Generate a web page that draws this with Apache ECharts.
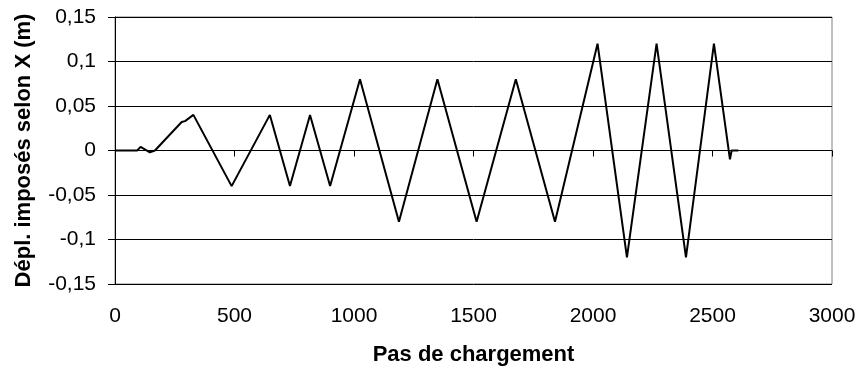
<!DOCTYPE html>
<html>
<head>
<meta charset="utf-8">
<title>Déplacements imposés</title>
<script src="https://cdn.jsdelivr.net/npm/echarts@6/dist/echarts.min.js"></script>
<style>
  html, body { margin: 0; padding: 0; background: #fff; }
  #chart { width: 859px; height: 371px; }
</style>
</head>
<body>
<div id="chart"></div>
<script>
// pas de chargement (x) et déplacement imposé (m) aux sommets du signal
let pas = [0, 93, 107, 146, 167, 279, 293, 328, 488, 648, 732, 816, 900,
  1025, 1188, 1349, 1513, 1677, 1841, 2019, 2142, 2266, 2389, 2506, 2573, 2580, 2608];
let depl = [0, 0, 0.004, -0.002, 0, 0.032, 0.033, 0.04, -0.04, 0.04, -0.04, 0.04, -0.04,
  0.08, -0.08, 0.08, -0.08, 0.08, -0.08, 0.12, -0.12, 0.12, -0.12, 0.12, -0.01, 0, 0];

let xTicks = [0, 500, 1000, 1500, 2000, 2500, 3000];
let yTicks = [-0.15, -0.1, -0.05, 0, 0.05, 0.1, 0.15];

let fontName = 'Liberation Sans, Arial, sans-serif';

let chart = echarts.init(document.getElementById('chart'), null, { renderer: 'canvas' });

let option = {
  animation: false,
  backgroundColor: '#fff',
  grid: {
    left: 115,
    right: 27,
    top: 17,
    bottom: 84,
    show: true,
    borderColor: '#808080',
    borderWidth: 1
  },
  xAxis: [
    {
      // labels en bas
      type: 'value',
      position: 'bottom',
      min: xTicks[0],
      max: xTicks[xTicks.length - 1],
      interval: 500,
      name: 'Pas de chargement',
      nameLocation: 'middle',
      nameGap: 60,
      nameTextStyle: { fontFamily: fontName, fontSize: 22, fontWeight: 'bold', color: '#000' },
      axisLine: { show: false, onZero: false },
      axisTick: { show: false },
      splitLine: { show: false },
      axisLabel: {
        fontFamily: fontName, fontSize: 21, color: '#000', margin: 22,
        formatter: function (v) { return String(v); }
      }
    },
    {
      // axe sur le zéro, avec graduations
      type: 'value',
      position: 'bottom',
      min: xTicks[0],
      max: xTicks[xTicks.length - 1],
      interval: 500,
      axisLine: { show: true, onZero: true, lineStyle: { color: '#000', width: 1 } },
      axisTick: { show: true, length: 6, lineStyle: { color: '#000' } },
      axisLabel: { show: false },
      splitLine: { show: false }
    }
  ],
  yAxis: {
    type: 'value',
    min: yTicks[0],
    max: yTicks[yTicks.length - 1],
    interval: 0.05,
    name: 'Dépl. imposés selon X (m)',
    nameLocation: 'middle',
    nameGap: 80,
    nameTextStyle: { fontFamily: fontName, fontSize: 22, fontWeight: 'bold', color: '#000' },
    axisLine: { show: true, onZero: false, lineStyle: { color: '#000', width: 1 } },
    axisTick: { show: true, length: 7, lineStyle: { color: '#000' } },
    splitLine: { show: true, lineStyle: { color: '#000', width: 1 } },
    axisLabel: {
      fontFamily: fontName,
      fontSize: 21,
      color: '#000',
      margin: 19,
      formatter: function (v) {
        return String(parseFloat(v.toFixed(2))).replace('.', ',');
      }
    }
  },
  series: [
    {
      type: 'line',
      xAxisIndex: 0,
      data: pas.map((v, i) => [v, depl[i]]),
      showSymbol: false,
      symbol: 'none',
      lineStyle: { color: '#000', width: 2 },
      z: 5
    }
  ]
};

chart.setOption(option);
</script>
</body>
</html>
